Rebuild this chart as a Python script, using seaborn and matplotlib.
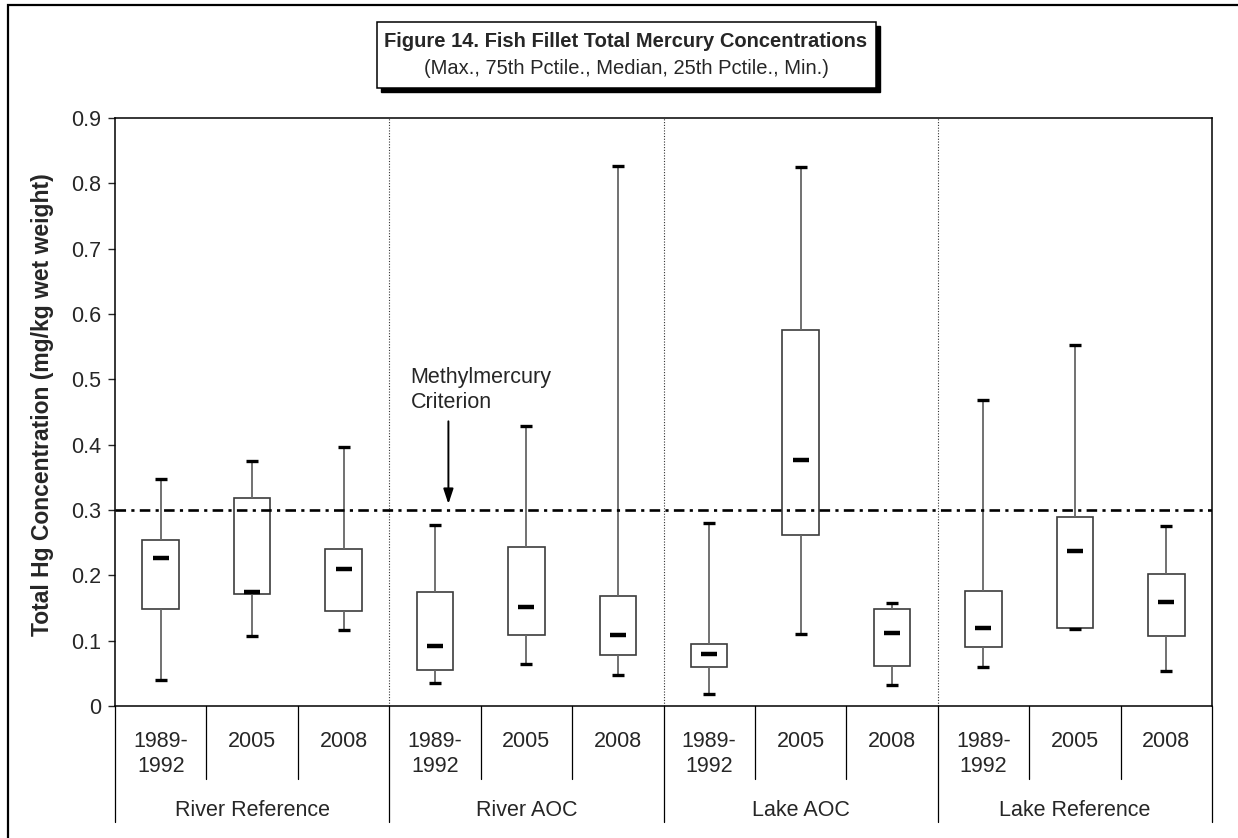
import matplotlib
matplotlib.use("Agg")
import matplotlib.pyplot as plt
from matplotlib.patches import Rectangle
from matplotlib.ticker import FuncFormatter
import seaborn as sns
import pandas as pd
import numpy as np

# data (mg/kg wet weight)
groups = ["River Reference", "River AOC", "Lake AOC", "Lake Reference"]
periods = ["1989-\n1992", "2005", "2008"]

hg_max = [0.347, 0.375, 0.396, 0.277, 0.428, 0.826, 0.280, 0.825, 0.158, 0.469, 0.553, 0.276]
hg_q3 = [0.254, 0.319, 0.241, 0.175, 0.244, 0.168, 0.095, 0.576, 0.148, 0.176, 0.290, 0.202]
hg_median = [0.226, 0.174, 0.210, 0.092, 0.151, 0.109, 0.079, 0.377, 0.112, 0.120, 0.238, 0.159]
hg_q1 = [0.149, 0.172, 0.145, 0.055, 0.108, 0.078, 0.059, 0.262, 0.062, 0.091, 0.120, 0.107]
hg_min = [0.040, 0.107, 0.117, 0.035, 0.065, 0.047, 0.019, 0.110, 0.032, 0.060, 0.118, 0.054]

criterion = 0.3
yticks = [0, 0.1, 0.2, 0.3, 0.4, 0.5, 0.6, 0.7, 0.8, 0.9]

# table of categories
keys = [g + "|" + p for g in groups for p in periods]
stats = pd.DataFrame({"key": keys, "max": hg_max, "q3": hg_q3, "median": hg_median,
                      "q1": hg_q1, "min": hg_min})
stats["pos"] = np.arange(len(stats))
# five points per box -> quartiles of them are exactly min, q1, median, q3, max
long = stats.melt(id_vars=["key", "pos"], value_vars=["min", "q1", "median", "q3", "max"],
                  value_name="value")

sns.set_style("ticks")
plt.rcParams["font.family"] = ["Liberation Sans", "DejaVu Sans"]
fs = 15.5

fig = plt.figure(figsize=(12.38, 8.38), dpi=100)
ax = fig.add_axes([0.0929, 0.1575, 0.8861, 0.7017])

sns.boxplot(data=long, x="key", y="value", order=keys, whis=(0, 100), width=0.4,
            showcaps=False, showfliers=False, color="white", linecolor="#3c3c3c",
            linewidth=1.2, medianprops={"visible": False},
            whiskerprops={"color": "#666666", "linewidth": 1.3}, ax=ax)

# median bars and caps
sns.scatterplot(data=stats, x="pos", y="median", marker="_", s=135, linewidth=3.2,
                color="black", edgecolor="black", zorder=5, ax=ax, legend=False)
for col in ["max", "min"]:
    sns.scatterplot(data=stats, x="pos", y=col, marker="_", s=64, linewidth=2.4,
                    color="black", edgecolor="black", zorder=5, ax=ax, legend=False)

ax.set_xlim(-0.5, len(keys) - 0.5)
ax.set_ylim(0, 0.9)
ax.set_yticks(yticks)
ax.yaxis.set_major_formatter(FuncFormatter(lambda v, p: f"{v:g}"))
ax.tick_params(axis="y", labelsize=fs, length=5, width=1, direction="out", pad=5)
ax.set_xticks([])
ax.set_xlabel("")
ax.set_ylabel("Total Hg Concentration (mg/kg wet weight)", fontsize=16.5, fontweight="bold")
ax.yaxis.set_label_coords(-0.0555, 0.512)
for s in ax.spines.values():
    s.set_visible(True)
    s.set_linewidth(1.1)
    s.set_color("black")

# criterion line
ax.axhline(criterion, color="black", lw=1.9, dashes=(4, 2, 1.2, 2), zorder=4)

# group separators inside the plot
n_per = len(periods)
edges = np.arange(len(keys) + 1) - 0.5
for e in edges[n_per:-1:n_per]:
    ax.axvline(e, color="#333333", lw=0.8, ls=(0, (1, 1.5)), zorder=1)

# category table under the axis
tr = ax.get_xaxis_transform()
for i, e in enumerate(edges):
    bottom = -0.197 if i % n_per == 0 else -0.124
    ax.plot([e, e], [0, bottom], color="black", lw=0.9, transform=tr, clip_on=False)
for i, k in enumerate(keys):
    ax.text(i, -0.042, periods[i % n_per], transform=tr, ha="center", va="top",
            fontsize=fs, linespacing=1.25)
for j, g in enumerate(groups):
    ax.text(j * n_per + (n_per - 1) / 2, -0.178, g, transform=tr, ha="center",
            va="center", fontsize=fs)

# criterion note
ax.text(2.735, 0.484, "Methylmercury\nCriterion", fontsize=fs, ha="left", va="center",
        linespacing=1.25)
ax.annotate("", xy=(3.147, 0.305), xytext=(3.147, 0.44),
            arrowprops=dict(arrowstyle="-|>,head_length=0.9,head_width=0.3",
                            color="black", lw=1.4))

# title box with shadow
bx, by, bw, bh = 0.3045, 0.895, 0.403, 0.0788
fig.patches.append(Rectangle((bx + 0.0035, by - 0.0045), bw, bh, transform=fig.transFigure,
                             facecolor="black", edgecolor="black", zorder=1))
fig.patches.append(Rectangle((bx, by), bw, bh, transform=fig.transFigure,
                             facecolor="white", edgecolor="black", lw=1.1, zorder=2))
fig.text(0.5057, 0.9499, "Figure 14. Fish Fillet Total Mercury Concentrations",
         ha="center", va="center", fontsize=14.5, fontweight="bold", zorder=3)
fig.text(0.5057, 0.918, "(Max., 75th Pctile., Median, 25th Pctile., Min.)",
         ha="center", va="center", fontsize=14.5, zorder=3)

# outer frame (only left and top edges fall inside the image)
fig.patches.append(Rectangle((0.0065, -0.5), 2, 1.494, transform=fig.transFigure,
                             fill=False, edgecolor="black", lw=1.6, zorder=0))

fig.savefig("out.png", dpi=100)
